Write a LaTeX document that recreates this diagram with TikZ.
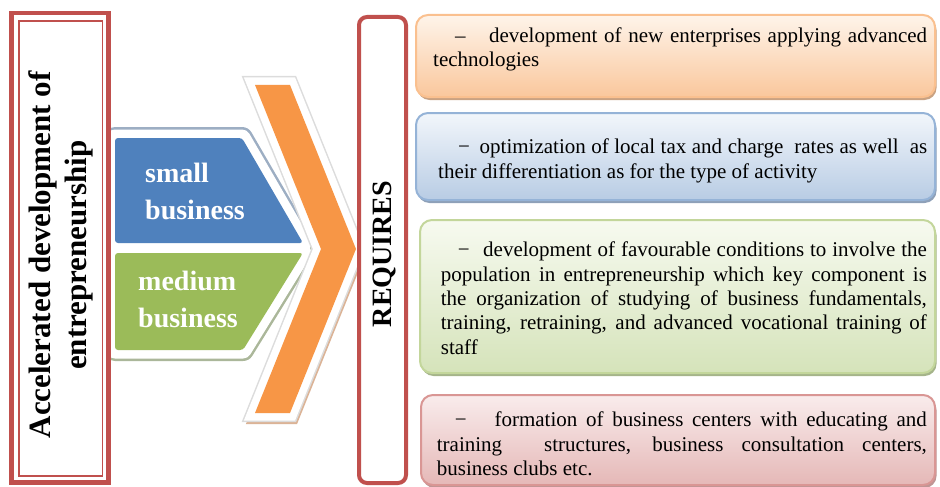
\documentclass[tikz,border=0pt]{standalone}
\usepackage{fontspec}
\setmainfont{Liberation Serif}

% palette
\definecolor{accred}{HTML}{C0504D}
\definecolor{accblue}{HTML}{4F81BD}
\definecolor{accgreen}{HTML}{9BBB59}
\definecolor{accorange}{HTML}{F79646}
\definecolor{orshadow}{HTML}{D2A07C}
\definecolor{orhalo}{HTML}{DCDCDC}
\definecolor{halob}{HTML}{9DAEC3}
\definecolor{halog}{HTML}{ABB79A}
% panel colours: line, top, bottom, shadow
\definecolor{oline}{HTML}{FAC08F}\definecolor{otop}{HTML}{FEF4EA}\definecolor{obot}{HTML}{FAC79C}\definecolor{oshad}{HTML}{C9A282}
\definecolor{bline}{HTML}{95B3D7}\definecolor{btop}{HTML}{F2F6FB}\definecolor{bbot}{HTML}{B8CCE4}\definecolor{bshad}{HTML}{8EA0B8}
\definecolor{gline}{HTML}{C3D69B}\definecolor{gtop}{HTML}{F7FAF0}\definecolor{gbot}{HTML}{D5E3BA}\definecolor{gshad}{HTML}{A5B48A}
\definecolor{rline}{HTML}{D99694}\definecolor{rtop}{HTML}{F9ECEC}\definecolor{rbot}{HTML}{E5B8B7}\definecolor{rshad}{HTML}{BF9594}

\tikzset{
  panel/.style={rounded corners=12pt, line width=2pt},
  panelshadow/.style={rounded corners=12pt},
  boxtext/.style={anchor=north west, inner sep=0pt, align=justify,
    font=\fontsize{21}{24.4}\selectfont},
  chevtext/.style={anchor=west, inner sep=0pt, align=left, text=white,
    font=\bfseries\fontsize{28}{37}\selectfont},
  bigtext/.style={rotate=90, inner sep=0pt, align=center,
    font=\bfseries\fontsize{31}{36}\selectfont},
}
% dash that opens every requirement
\newcommand{\itemdash}[3]{\hspace*{#1}#2\hspace{#3 plus 6pt minus 4pt}}

\begin{document}
\begin{tikzpicture}[x=1pt,y=-1pt]
\useasboundingbox (0,0) rectangle (940,487);

% --- small / medium business arrows ---
\def\bluepath{(115,138) -- (242,138) -- (303,243) -- (115,243) -- cycle}
\def\greenpath{(115,253) -- (303,253) -- (243,350) -- (115,350) -- cycle}
\draw[halob, line width=22pt, line join=round] \bluepath;
\draw[halog, line width=22pt, line join=round] \greenpath;
\draw[white, line width=17pt, line join=round] \bluepath;
\draw[white, line width=17pt, line join=round] \greenpath;
\fill[accblue, rounded corners=3pt] \bluepath;
\fill[accgreen, rounded corners=3pt] \greenpath;
\node[chevtext] (small) at (145,191.5) {small\\business};
\node[chevtext] (medium) at (138,299) {medium\\business};

% --- big orange chevron ---
\def\chevpath{(255,85) -- (290,85) -- (356,249) -- (290,413) -- (255,413) -- (321,249) -- cycle}
\begin{scope}[shift={(2,3.5)}]
  \filldraw[orshadow, line width=15pt, line join=miter, opacity=.8] \chevpath;
\end{scope}
\draw[orhalo, line width=18pt, line join=miter] \chevpath;
\draw[white, line width=15pt, line join=miter] \chevpath;
\fill[accorange] \chevpath;

% --- left title frame ---
\draw[accred, line width=4.5pt, fill=white] (11.7,12.8) rectangle (108.5,482.5);
\draw[accred, line width=1.5pt] (19,21) rectangle (102.5,476);
\node[bigtext] (title) at (61,255) {Accelerated development of\\entrepreneurship};

% --- REQUIRES frame ---
\draw[accred, line width=4pt, rounded corners=8pt, fill=white] (359,17) rectangle (406,483);
\node[bigtext, font=\bfseries\fontsize{28}{34}\selectfont] (req) at (384,254) {REQUIRES};

% --- requirement panels ---
\fill[oshad, panelshadow] (417.5,18) rectangle (936.5,100);
\path[panel, draw=oline, top color=otop, bottom color=obot] (416,15) rectangle (935,97);
\node[boxtext, text width=494pt] (r1) at (433,27.4)
  {\itemdash{22pt}{–}{20pt}development of new enterprises applying advanced\linebreak technologies};

\fill[bshad, panelshadow] (417.5,116) rectangle (936.5,203);
\path[panel, draw=bline, top color=btop, bottom color=bbot] (416,113) rectangle (935,200);
\node[boxtext, text width=489pt] (r2) at (438,138.7)
  {\itemdash{20pt}{\char"2212}{9pt}optimization of local tax and charge\ \ rates as well\ \ as\linebreak their differentiation as for the type of activity};

\fill[gshad, panelshadow] (421.5,223) rectangle (936.5,376);
\path[panel, draw=gline, top color=gtop, bottom color=gbot] (420,220) rectangle (935,373);
\node[boxtext, text width=486pt] (r3) at (440.7,241.7)
  {\itemdash{17pt}{\char"2212}{12pt}development of favourable conditions to involve the\linebreak population in entrepreneurship which key component is\linebreak the organization of studying of business fundamentals,\linebreak training, retraining, and advanced vocational training of\linebreak staff};

\fill[rshad, panelshadow] (422.5,398) rectangle (936.5,488);
\path[panel, draw=rline, top color=rtop, bottom color=rbot] (421,395) rectangle (935,485);
\node[boxtext, text width=490pt] (r4) at (436.7,411.7)
  {\itemdash{18pt}{\char"2212}{20pt}formation of business centers with educating and\linebreak training\hspace{24pt} structures, business consultation centers,\linebreak business clubs etc.};

\end{tikzpicture}
\end{document}
